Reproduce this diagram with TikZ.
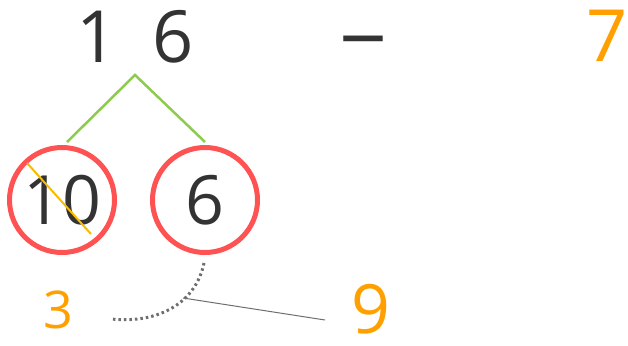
\documentclass[tikz,border=0pt]{standalone}
\usepackage{fontspec}
\setmainfont{Open Sans}
\usepackage{tikz}
\usetikzlibrary{positioning,calc}
\definecolor{digitgray}{RGB}{51, 51, 51}
\definecolor{answerorange}{RGB}{255, 160, 0}
\definecolor{ringred}{RGB}{255, 82, 82}
\definecolor{splitgreen}{RGB}{141, 203, 79}
\definecolor{strikeyellow}{RGB}{247, 187, 0}
\definecolor{guidegray}{RGB}{110, 110, 110}

\begin{document}
\begin{tikzpicture}[x=1pt,y=-1pt]
    \useasboundingbox (0,0) rectangle (628,345);

    % Top row: 16 - 7
    \node[text=digitgray,font=\fontsize{72}{72}\selectfont] (one) at (97,37) {1};
    \node[text=digitgray,font=\fontsize{72}{72}\selectfont] (six) at (173,37) {6};
    \node[text=digitgray,font=\fontsize{84}{84}\selectfont,anchor=base] (minus) at (364,68) {−};
    \node[text=answerorange,font=\fontsize{72}{72}\selectfont] (seven) at (607,36) {7};

    % Splitting 16 into 10 and 6
    \coordinate (apex) at (135,75);
    \node[draw=ringred,line width=5pt,circle,minimum size=105pt,text=digitgray,
          font=\fontsize{68}{68}\selectfont] (ten) at (62,200) {10};
    \node[draw=ringred,line width=5pt,circle,minimum size=105pt,text=digitgray,
          font=\fontsize{68}{68}\selectfont] (sixpart) at (205,200) {6};
    \draw[splitgreen,line width=2.5pt] (ten.north) ++(5,-3) coordinate (tl) -- (apex)
        -- ($(sixpart.north)+(0,-3)$) coordinate (tr);
    \draw[strikeyellow,line width=2pt] (27,163) -- (91,234);

    % Take 7 from 10, then add 6
    \node[text=answerorange,font=\fontsize{52}{52}\selectfont] (three) at (58,310) {3};
    \coordinate (arcstart) at (204,263);
    \coordinate (arcend) at (111,319);
    \draw[guidegray,line width=3pt,dash pattern=on 2.5pt off 3pt]
        (arcstart) .. controls (196,302) and (160,324) .. (arcend);
    \coordinate (arcmid) at (183,298);
    \node[text=answerorange,font=\fontsize{68}{68}\selectfont,inner sep=1pt] (nine) at (371,309) {9};
    \draw[guidegray,line width=1pt] (arcmid) -- (325,320);
\end{tikzpicture}
\end{document}
